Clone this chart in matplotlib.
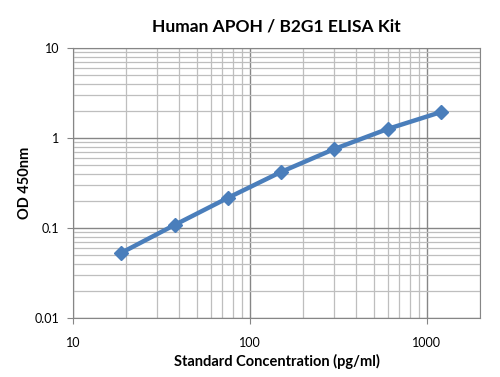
import numpy as np
import matplotlib.pyplot as plt
from matplotlib.ticker import LogLocator, FixedLocator, NullFormatter

plt.rcParams['font.family'] = ['Lato', 'DejaVu Sans']

concentration = [18.75, 37.5, 75, 150, 300, 600, 1200]
od_450 = [0.053, 0.108, 0.216, 0.42, 0.755, 1.26, 1.94]

x_ticks = [10, 100, 1000]
x_tick_labels = ["10", "100", "1000"]
y_ticks = [0.01, 0.1, 1, 10]
y_tick_labels = ["0.01", "0.1", "1", "10"]

fig = plt.figure(figsize=(5.0, 3.77), dpi=100)
ax = fig.add_axes([0.146, 0.1565, 0.814, 0.716])

ax.plot(concentration, od_450, color="#4A7EBB", linewidth=3.2,
        marker="D", markersize=7, markerfacecolor="#4A7EBB",
        markeredgecolor="#4A7EBB", zorder=3)

ax.set_xscale("log")
ax.set_yscale("log")
ax.set_xlim(10, 2000)
ax.set_ylim(0.01, 10)

ax.xaxis.set_major_locator(FixedLocator(x_ticks))
ax.set_xticklabels(x_tick_labels)
ax.yaxis.set_major_locator(FixedLocator(y_ticks))
ax.set_yticklabels(y_tick_labels)
ax.xaxis.set_minor_locator(LogLocator(base=10, subs=np.arange(2, 10)))
ax.yaxis.set_minor_locator(LogLocator(base=10, subs=np.arange(2, 10)))
ax.xaxis.set_minor_formatter(NullFormatter())
ax.yaxis.set_minor_formatter(NullFormatter())

ax.grid(which="major", color="#868686", linewidth=1.0)
ax.grid(which="minor", color="#BEBEBE", linewidth=0.9)
ax.set_axisbelow(True)

for s in ax.spines.values():
    s.set_color("#868686")
ax.tick_params(which="major", length=4, color="#868686", labelsize=9,
               pad=6)
ax.tick_params(which="minor", length=0)
ax.tick_params(axis="x", pad=10)

ax.set_title("Human APOH / B2G1 ELISA Kit", fontsize=12.5, fontweight="bold",
             pad=12)
ax.set_xlabel("Standard Concentration (pg/ml)", fontsize=10.5,
              fontweight="bold", labelpad=3)
ax.set_ylabel("OD 450nm", fontsize=10.5, fontweight="bold", labelpad=2)

fig.savefig("out.png", dpi=100)
